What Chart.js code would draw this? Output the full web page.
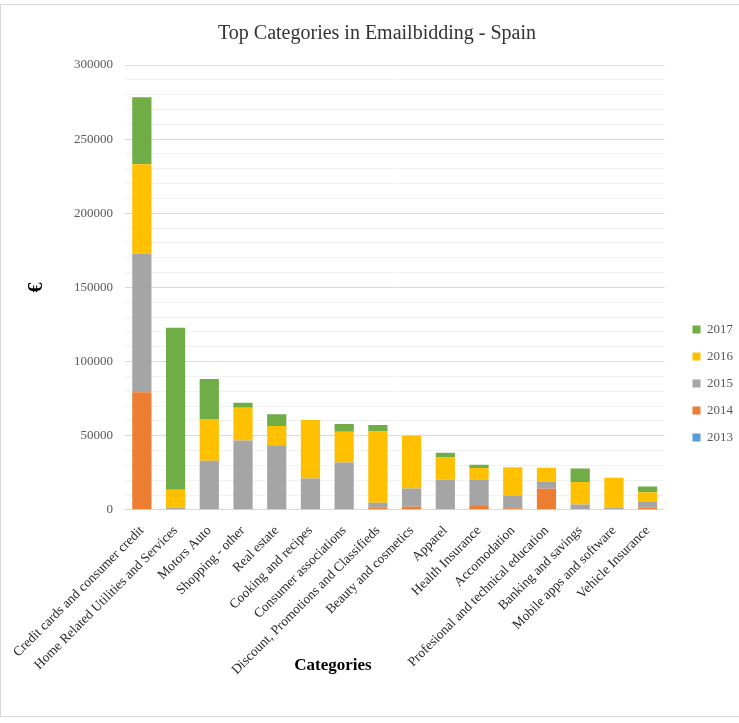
<!DOCTYPE html>
<html>
<head>
<meta charset="utf-8">
<script src="https://cdn.jsdelivr.net/npm/chart.js@4"></script>
<style>
  body { margin: 0; background: #fff; }
  #wrap { position: relative; width: 739px; height: 723px; }
  #frame { position: absolute; left: 0; top: 4px; width: 745px; height: 713px; border: 1px solid #d9d9d9; box-sizing: border-box; }
  canvas { position: absolute; left: 0; top: 0; }
</style>
</head>
<body>
<div id="wrap">
  <div id="frame"></div>
  <canvas id="chart" width="739" height="723"></canvas>
</div>
<script>
const categories = [
  "Credit cards and consumer credit",
  "Home Related Utilities and Services",
  "Motors Auto",
  "Shopping - other",
  "Real estate",
  "Cooking and recipes",
  "Consumer associations",
  "Discount, Promotions and Classifieds",
  "Beauty and cosmetics",
  "Apparel",
  "Health Insurance",
  "Accomodation",
  "Profesional and technical education",
  "Banking and savings",
  "Mobile apps and software",
  "Vehicle Insurance"
];

const v2013 = [0, 0, 0, 0, 0, 0, 0, 0, 0, 0, 0, 0, 0, 0, 0, 0];
const v2014 = [79300, 0, 0, 0, 0, 0, 0, 1500, 2000, 0, 2500, 1000, 14200, 0, 0, 1500];
const v2015 = [93500, 1500, 33100, 46800, 43500, 21200, 32000, 3200, 12400, 20300, 17600, 8700, 4900, 3600, 1500, 3700];
const v2016 = [60200, 12000, 27900, 22100, 13000, 39400, 20700, 48200, 35600, 15000, 8100, 19100, 9300, 15100, 20100, 6600];
const v2017 = [45200, 109300, 27300, 3400, 7900, 0, 5200, 4300, 0, 3200, 2200, 0, 0, 9200, 0, 4000];

const serif = "'Liberation Serif', 'Times New Roman', serif";

// x axis title sits left of centre in the original, so draw it by hand
const xTitle = {
  id: 'xTitle',
  afterDraw(chart) {
    const ctx = chart.ctx;
    ctx.save();
    ctx.font = "bold 17px " + serif;
    ctx.fillStyle = '#000';
    ctx.textAlign = 'center';
    ctx.textBaseline = 'middle';
    ctx.fillText('Categories', chart.chartArea.left + 208, chart.height - 57);
    ctx.restore();
  }
};

// legend sits a bit lower and further right than chart.js puts it
const legendShift = {
  id: 'legendShift',
  afterLayout(chart) {
    const lg = chart.legend;
    lg.left += 14; lg.right += 14;
    lg.top += 37; lg.bottom += 37;
  }
};

function ds(label, data, color) {
  return {
    label: label,
    data: data,
    backgroundColor: color,
    borderWidth: 0,
    barPercentage: 0.57,
    categoryPercentage: 1
  };
}

new Chart(document.getElementById('chart'), {
  type: 'bar',
  data: {
    labels: categories,
    datasets: [
      ds('2013', v2013, '#5b9bd5'),
      ds('2014', v2014, '#ed7d31'),
      ds('2015', v2015, '#a5a5a5'),
      ds('2016', v2016, '#ffc000'),
      ds('2017', v2017, '#70ad47')
    ]
  },
  options: {
    responsive: false,
    animation: false,
    layout: { padding: { left: 25, right: 10, top: 10, bottom: 40 } },
    plugins: {
      title: {
        display: true,
        text: 'Top Categories in Emailbidding - Spain',
        font: { family: serif, size: 20, weight: 'normal' },
        color: '#333333',
        padding: { top: 12, bottom: 19 }
      },
      legend: {
        position: 'right',
        reverse: true,
        labels: {
          boxWidth: 8,
          boxHeight: 8,
          padding: 14,
          color: '#595959',
          font: { family: serif, size: 13 }
        }
      },
      tooltip: { enabled: false }
    },
    scales: {
      x: {
        stacked: true,
        grid: { display: false },
        border: { display: false },
        ticks: {
          color: '#262626',
          font: { family: serif, size: 13.5 },
          minRotation: 45,
          maxRotation: 45,
          autoSkip: false,
          padding: 5
        }
      },
      y: {
        stacked: true,
        min: 0,
        max: 300000,
        border: { display: false },
        grid: {
          drawTicks: false,
          color: c => (c.tick && c.tick.value % 50000 === 0) ? '#d9d9d9' : '#f2f2f2'
        },
        ticks: {
          stepSize: 10000,
          autoSkip: false,
          padding: 12,
          color: '#595959',
          font: { family: serif, size: 13 },
          callback: v => v % 50000 === 0 ? v : ''
        },
        title: {
          display: true,
          text: '€',
          color: '#000',
          font: { family: serif, size: 20, weight: 'bold' },
          padding: { top: 0, bottom: 13 }
        }
      }
    }
  },
  plugins: [xTitle, legendShift]
});
</script>
</body>
</html>
